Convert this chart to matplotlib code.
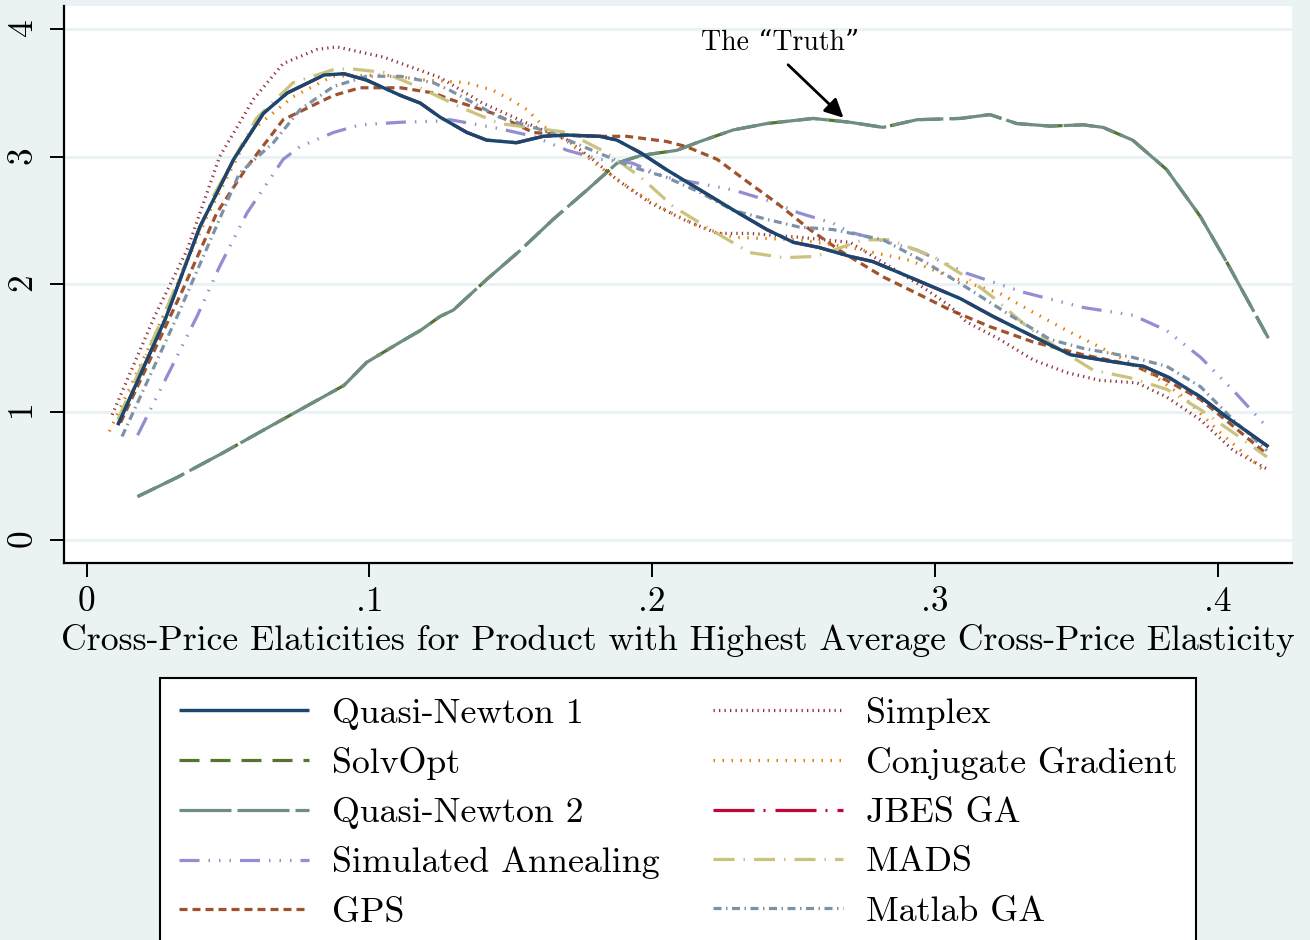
import matplotlib
matplotlib.use("Agg")
import matplotlib.pyplot as plt

plt.rcParams['font.family'] = ['cmr10', 'DejaVu Serif']
plt.rcParams['axes.formatter.use_mathtext'] = True
plt.rcParams['lines.scale_dashes'] = False

# data
qn1_x = [0.011, 0.028, 0.040, 0.052, 0.0625, 0.071, 0.084, 0.091, 0.099, 0.111, 0.118, 0.125, 0.1345, 0.1415,
         0.152, 0.1615, 0.170, 0.1815, 0.1876, 0.196, 0.205, 0.217, 0.229, 0.2406, 0.250, 0.259, 0.270, 0.278,
         0.2877, 0.309, 0.3206, 0.336, 0.348, 0.3645, 0.3738, 0.383, 0.394, 0.4034, 0.418]
qn1_y = [0.90, 1.74, 2.45, 2.98, 3.34, 3.50, 3.64, 3.65, 3.60, 3.48, 3.42, 3.31, 3.19, 3.13,
         3.11, 3.16, 3.17, 3.16, 3.13, 3.03, 2.90, 2.74, 2.58, 2.43, 2.33, 2.29, 2.22, 2.18,
         2.09, 1.89, 1.75, 1.58, 1.45, 1.39, 1.36, 1.27, 1.12, 0.96, 0.73]

truth_x = [0.018, 0.032, 0.048, 0.0625, 0.0755, 0.091, 0.099, 0.111, 0.118, 0.125, 0.1297, 0.1415, 0.153,
           0.165, 0.177, 0.1876, 0.196, 0.2087, 0.217, 0.2287, 0.2406, 0.257, 0.270, 0.2817, 0.2937, 0.309,
           0.3195, 0.329, 0.3408, 0.3525, 0.3595, 0.370, 0.382, 0.394, 0.4034, 0.418]
truth_y = [0.34, 0.49, 0.68, 0.86, 1.02, 1.21, 1.39, 1.55, 1.64, 1.75, 1.80, 2.04, 2.26,
           2.51, 2.74, 2.95, 3.01, 3.05, 3.12, 3.21, 3.26, 3.30, 3.27, 3.23, 3.29, 3.30,
           3.33, 3.26, 3.24, 3.25, 3.23, 3.13, 2.90, 2.53, 2.17, 1.58]

sa_x = [0.018, 0.039, 0.047, 0.0567, 0.0695, 0.0755, 0.0873, 0.0967, 0.111, 0.125, 0.1285, 0.146, 0.158,
        0.170, 0.1815, 0.193, 0.205, 0.217, 0.2287, 0.2406, 0.252, 0.264, 0.270, 0.2937, 0.311, 0.3312,
        0.3525, 0.370, 0.382, 0.394, 0.4056, 0.4168]
sa_y = [0.82, 1.75, 2.14, 2.56, 2.98, 3.08, 3.19, 3.25, 3.27, 3.28, 3.29, 3.22, 3.16,
        3.05, 2.98, 2.95, 2.84, 2.79, 2.74, 2.66, 2.56, 2.48, 2.41, 2.27, 2.09, 1.94,
        1.82, 1.76, 1.64, 1.43, 1.17, 0.90]

gps_x = [0.012, 0.034, 0.046, 0.0567, 0.0695, 0.0873, 0.0967, 0.111, 0.1226, 0.1285, 0.1437, 0.158, 0.1756,
         0.191, 0.205, 0.212, 0.223, 0.2346, 0.244, 0.2558, 0.2675, 0.2817, 0.2937, 0.3055, 0.3195, 0.3348,
         0.3525, 0.370, 0.382, 0.394, 0.4056, 0.4175]
gps_y = [0.92, 1.96, 2.56, 2.92, 3.29, 3.48, 3.54, 3.54, 3.50, 3.45, 3.34, 3.19, 3.16,
         3.16, 3.12, 3.08, 2.98, 2.79, 2.64, 2.43, 2.25, 2.06, 1.93, 1.80, 1.67, 1.55,
         1.45, 1.37, 1.25, 1.10, 0.89, 0.67]

simplex_x = [0.009, 0.024, 0.0355, 0.047, 0.059, 0.0695, 0.0815, 0.0885, 0.105, 0.125, 0.140, 0.158, 0.170,
             0.179, 0.1876, 0.1993, 0.211, 0.223, 0.2346, 0.252, 0.270, 0.2937, 0.3055, 0.311, 0.323, 0.3348,
             0.3467, 0.3584, 0.3715, 0.382, 0.394, 0.4056, 0.418]
simplex_y = [0.98, 1.75, 2.27, 3.00, 3.45, 3.73, 3.84, 3.86, 3.78, 3.62, 3.42, 3.24, 3.13,
             2.98, 2.82, 2.64, 2.51, 2.40, 2.40, 2.37, 2.33, 2.01, 1.83, 1.71, 1.57, 1.41,
             1.31, 1.25, 1.23, 1.12, 0.94, 0.70, 0.55]

cg_x = [0.008, 0.025, 0.0425, 0.058, 0.073, 0.087, 0.105, 0.120, 0.1345, 0.1437, 0.1497, 0.1557, 0.1615,
        0.170, 0.1815, 0.193, 0.205, 0.217, 0.2287, 0.2406, 0.252, 0.270, 0.291, 0.3055, 0.323, 0.335,
        0.3467, 0.3584, 0.376, 0.388, 0.400, 0.416]
cg_y = [0.85, 1.65, 2.53, 3.20, 3.47, 3.63, 3.64, 3.60, 3.58, 3.52, 3.45, 3.37, 3.24,
        3.12, 2.92, 2.74, 2.58, 2.45, 2.37, 2.36, 2.35, 2.29, 2.19, 2.06, 1.93, 1.78,
        1.64, 1.51, 1.31, 1.12, 0.86, 0.55]

mads_x = [0.011, 0.028, 0.045, 0.060, 0.073, 0.087, 0.093, 0.105, 0.118, 0.132, 0.146, 0.160, 0.170,
          0.184, 0.196, 0.2075, 0.223, 0.2346, 0.2465, 0.258, 0.2746, 0.284, 0.2994, 0.311, 0.3206, 0.3326,
          0.3443, 0.356, 0.369, 0.382, 0.394, 0.4056, 0.4175]
mads_y = [0.94, 1.80, 2.70, 3.30, 3.58, 3.68, 3.69, 3.66, 3.54, 3.39, 3.26, 3.22, 3.19,
          3.03, 2.84, 2.61, 2.40, 2.25, 2.21, 2.22, 2.35, 2.35, 2.22, 2.06, 1.90, 1.67,
          1.49, 1.33, 1.27, 1.18, 1.02, 0.84, 0.65]

mga_x = [0.0125, 0.032, 0.0448, 0.054, 0.066, 0.0755, 0.0873, 0.099, 0.111, 0.1226, 0.1285, 0.146, 0.164,
         0.1756, 0.193, 0.205, 0.217, 0.2287, 0.2406, 0.252, 0.264, 0.2817, 0.297, 0.311, 0.3266, 0.3408,
         0.3525, 0.370, 0.382, 0.394, 0.4056, 0.4175]
mga_y = [0.81, 1.75, 2.40, 2.87, 3.11, 3.37, 3.55, 3.63, 3.63, 3.58, 3.52, 3.31, 3.19,
         3.08, 2.92, 2.84, 2.72, 2.58, 2.51, 2.45, 2.43, 2.35, 2.17, 1.98, 1.76, 1.57,
         1.50, 1.43, 1.36, 1.20, 0.94, 0.70]

# JBES GA is not visible in the figure: sits under Quasi-Newton 1
jbes_x = qn1_x
jbes_y = qn1_y

xticks = [0, 0.1, 0.2, 0.3, 0.4]
xticklabels = ["0", ".1", ".2", ".3", ".4"]
yticks = [0, 1, 2, 3, 4]

bg = "#EAF2F3"
px = 0.72  # one pixel in points

fig = plt.figure(figsize=(13.1, 9.4), dpi=100, facecolor=bg)
ax = fig.add_axes([64/1310, 1 - 563/940, (1292-64)/1310, (563-6)/940])
ax.set_facecolor("white")

for s in ["top", "right"]:
    ax.spines[s].set_visible(False)
for s in ["left", "bottom"]:
    ax.spines[s].set_linewidth(1.6)

ax.grid(axis="y", color=bg, lw=3*px, zorder=0)
ax.set_axisbelow(True)

lw = 3.2*px
series = [
    ("Quasi-Newton 1", qn1_x, qn1_y, "#1A476F", "-", 3.4*px, 5),
    ("SolvOpt", truth_x, truth_y, "#55752F", (0, (20*px, 11*px)), lw, 3),
    ("Quasi-Newton 2", truth_x, truth_y, "#6E8E84", (0, (52*px, 6*px)), lw, 3.1),
    ("Simulated Annealing", sa_x, sa_y, "#938DD2",
     (0, (20*px, 9*px, 1.5*px, 9*px, 1.5*px, 9*px, 1.5*px, 9*px)), lw, 4),
    ("GPS", gps_x, gps_y, "#A0522D", (0, (8*px, 5*px)), lw, 4),
    ("Simplex", simplex_x, simplex_y, "#90353B", (0, (1.3*px, 4.2*px)), lw, 4),
    ("Conjugate Gradient", cg_x, cg_y, "#E37E00", (0, (1.5*px, 7.5*px)), lw, 4),
    ("JBES GA", jbes_x, jbes_y, "#C10534", (0, (41*px, 9*px, 2*px, 10*px)), lw, 2),
    ("MADS", mads_x, mads_y, "#CAC27E", (0, (21*px, 9*px, 1.5*px, 9*px)), lw, 4),
    ("Matlab GA", mga_x, mga_y, "#7B92A8", (0, (8*px, 4.5*px, 1.5*px, 4.5*px)), lw, 4),
]
for name, xs, ys, c, ls, w, z in series:
    ax.plot(xs, ys, color=c, ls=ls, lw=w, label=name, zorder=z, dash_capstyle="butt", solid_capstyle="butt")

ax.set_xlim(-22.7/2827, (1292-86.7)/2827)
ax.set_ylim(-23/127.7, 4 + 23/127.7)
ax.set_xticks(xticks)
ax.set_xticklabels(xticklabels)
ax.set_yticks(yticks)
ax.tick_params(axis="both", direction="out", length=10, width=1.4, labelsize=25.5, pad=7)
for lab in ax.get_yticklabels():
    lab.set_rotation(90)
    lab.set_va("center")

ax.set_xlabel("Cross-Price Elaticities for Product with Highest Average Cross-Price Elasticity",
              fontsize=25.7, labelpad=4)

ax.text(0.2452, 3.895, "The \u201cTruth\u201d", fontsize=20, ha="center", va="center", zorder=6)
ax.annotate("", xy=(0.2677, 3.305), xytext=(0.2481, 3.72),
            arrowprops=dict(arrowstyle="-|>", color="black", lw=2, mutation_scale=28,
                            shrinkA=0, shrinkB=0), zorder=6)

leg = fig.legend(loc="upper left", bbox_to_anchor=(160/1310, 1 - 678/940), ncol=2,
                 fontsize=25.8, frameon=True, fancybox=False, edgecolor="black", framealpha=1,
                 handlelength=3.63, handletextpad=0.64, columnspacing=1.5,
                 labelspacing=0.48, borderpad=0.52, borderaxespad=0)
leg.get_frame().set_linewidth(1.5)

fig.savefig("out.png", dpi=100, facecolor=bg)
